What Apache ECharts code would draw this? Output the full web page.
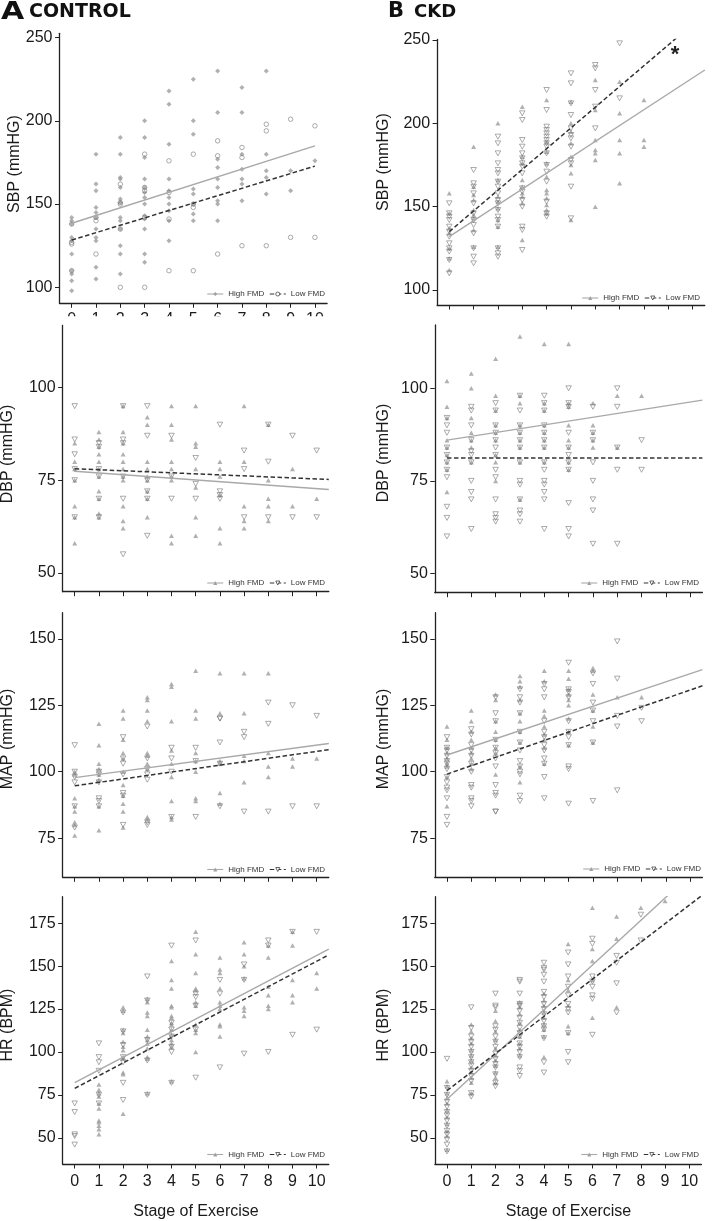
<!DOCTYPE html>
<html><head><meta charset="utf-8">
<script src="https://cdn.jsdelivr.net/npm/echarts@6/dist/echarts.min.js"></script>
<style>html,body{margin:0;padding:0;background:#fff}#c{width:722px;height:1221px}</style>
</head><body><div id="c"></div><script>
// ---------- axis values ----------
const stages = [0,1,2,3,4,5,6,7,8,9,10];
const stageTicks = [0,1,2,3,4,5,6,7,8,9,10];
const sbpTicks = [100,150,200,250];
const dbpTicks = [50,75,100];
const mapTicks = [75,100,125,150];
const hrTicks = [50,75,100,125,150,175];

// ---------- CONTROL: SBP (values per stage) ----------
const ctrlSbpHigh = [[142,140,138,130,128,120,110,108,104,98],[180,162,158,148,145,142,135,130,128,112,105],[190,180,166,165,160,153,151,142,140,135,125,120,108],[200,190,178,165,160,157,154,150,143,141,135,120,115],[218,210,186,165,158,154,150,146,140,128],[225,200,192,159,156,150,144,140],[230,205,177,172,165,160,152,150,140],[220,205,180,171,165,162,152],[230,180,170,166,156],[170,158],[176]];
const ctrlSbpLow = [[138,127,126,110],[142,140,120],[162,151,150,135,100],[180,160,158,142,100],[176,157,141,110],[180,150,148,110],[188,179,120],[184,178,125],[198,194,125],[201,130],[197,130]];
const ctrlSbpHighFit = [[0,138.5],[10,185]];
const ctrlSbpLowFit = [[0,128.4],[10,172.8]];

// ---------- CKD: SBP ----------
const ckdSbpHigh = [[158,146,137,134,125,119,112],[186,162,157,154,148,145,143,136,126],[200,166,156,153,149,142,138,126],[210,180,176,166,162,158,156,152,130],[214,189,183,176,168,160,158,155,151,148,146],[213,200,195,188,180,175,170,142],[226,208,190,184,182,178,150],[225,206,190,182,164],[214,190,186],[],[]];
const ckdSbpLow = [[152,146,144,142,138,135,132,128,125,123,118,110],[172,164,162,158,152,146,142,139,134,125,120,116],[192,188,182,176,172,170,165,162,158,154,152,148,144,142,138,125,122,120],[206,202,190,186,182,179,176,174,170,161,159,154,150,138,136,124],[220,208,198,196,194,192,190,188,186,182,175,171,165,153,146,144],[230,224,212,205,197,193,191,186,178,176,162,143],[235,233,220,210,197],[248,215],[],[],[]];
const ckdSbpHighFit = [[0,132],[10.5,232]];
const ckdSbpLowFit = [[0,135],[10.5,265.7]];

// ---------- CONTROL: DBP ----------
const ctrlDbpHigh = [[85,80,78,75,68,65,58],[88,86,84,82,80,78,76,72,70,66,65],[95,88,85,82,80,78,76,75,68,64,62],[92,90,80,78,76,75,72,70,65],[95,90,86,80,78,76,75,60,58],[95,85,84,78,73,65,60],[80,78,76,71,62,58],[95,80,68,64,62],[90,75,70,68,64],[78,68],[70]];
const ctrlDbpLow = [[95,86,82,78,75,65],[85,84,78,76,70,65],[95,86,85,76,70,55],[95,87,75,72,70,60],[87,76,70],[81,74,70],[90,72,71,70],[83,78,65],[90,80,65],[87,65],[83,65]];
const ctrlDbpHighFit = [[0,77.4],[10.5,72.5]];
const ctrlDbpLowFit = [[0,78.1],[10.5,75.2]];

// ---------- CKD: DBP ----------
const ckdDbpHigh = [[102,95,92,86,84,82,80,78,72],[104,100,92,88,86,84,80],[108,98,94,90,88,86,82,80,75],[114,98,96,90,88,86,84,80,70],[112,96,94,90,88,86,84,80],[112,96,95,90,86,84,80,78],[96,90,88,86,84],[98,84],[98],[],[]];
const ckdDbpLow = [[92,90,88,84,82,80,78,76,68,65,60],[95,94,90,86,83,82,80,75,72,70,62],[96,94,90,88,86,84,82,78,76,70,66,65,64],[98,94,90,88,86,84,80,75,74,70,67,66,64],[98,96,94,90,88,86,84,80,78,75,74,72,70,62],[100,96,95,88,84,82,80,78,69,62,60],[95,88,86,80,75,70,67,58],[100,95,84,78,58],[86,78],[],[]];
const ckdDbpHighFit = [[0,86],[10.5,96.8]];
const ckdDbpLowFit = [[0,81.2],[10.5,81.2]];

// ---------- CONTROL: MAP ----------
const ctrlMapHigh = [[100,99,90,87,85,81,80,76],[118,110,103,101,99,97,87,78],[123,120,112,107,105,100,95,91,88,85,79],[128,127,123,119,107,106,103,101,83,82],[133,132,119,108,103,98,89,83,82],[138,123,120,107,104,100,90,89],[137,122,104,103,92,88],[137,122,106,104,96],[137,107,102,98],[105,102],[105]];
const ctrlMapLow = [[110,100,98,96,87,79],[100,99,96,90,89,87],[113,105,103,99,92,91,80],[117,105,101,99,97,81,80],[109,105,100,83],[109,104,83],[120,120,111,103,87],[115,113,85],[126,118,85],[125,87],[121,87]];
const ctrlMapHighFit = [[0,97.8],[10.5,110.6]];
const ctrlMapLowFit = [[0,94.7],[10.5,108.3]];

// ---------- CKD: MAP ----------
const ckdMapHigh = [[117,112,109,107,105,103,102,98,87],[123,119,115,112,109,107,105,103,101],[129,127,119,115,112,109,107,99],[136,134,132,127,122,119,115,111,102,96],[138,134,123,121,117,114,112,109,103],[138,135,131,129,127,125,120,115,110],[139,138,129,123,117,111],[128],[128],[],[]];
const ckdMapLow = [[113,109,108,106,104,103,101,98,96,94,93,90,83,80],[116,114,110,108,106,103,100,95,94,90,89,87],[128,122,119,112,109,107,105,102,95,92,91,85,85],[131,128,126,122,115,111,108,104,102,100,99,91,89],[133,131,128,119,115,113,110,108,105,103,98,90],[141,131,130,128,119,115,113,110,102,101,88],[137,133,126,123,119,111,89],[149,135,121,117,93],[124,119],[],[]];
const ckdMapHighFit = [[0,106.3],[10.5,138.4]];
const ckdMapLowFit = [[0,99.1],[10.5,132.3]];

// ---------- CONTROL: HR ----------
const ctrlHrHigh = [[],[81,78,76,74,70,67,60,59,57,55,52],[126,124,113,111,106,103,101,97,96,88,87,64],[131,129,123,121,113,109,107,105,102,97,96,76],[153,142,137,127,126,121,120,117,116,113,110,107,105,103,83],[170,157,146,137,136,129,127,116,113,111,100],[155,148,146,137,129,127,125,116,115,109],[164,157,150,143,126,124,121],[162,155,138,133,127,125],[170,162,142,133,129],[146,137]];
const ctrlHrLow = [[70,65,52,51,46],[105,97,94,89,75,70],[123,112,104,97,94,82,72],[144,130,107,95,75],[162,117,113,109,103,100,82],[165,134,132,127,113,85],[142,134,91],[151,142,99],[165,162,100],[170,110],[170,113]];
const ctrlHrHighFit = [[0,82.1],[10.5,159.9]];
const ctrlHrLowFit = [[0,78.8],[10.5,156.6]];

// ---------- CKD: HR ----------
const ckdHrHigh = [[83,80,76,73,70,66,62,58,54,51,43],[116,112,108,105,101,98,95,91,88,85,82,76],[124,118,112,107,102,98,95,92,88,85,82],[129,126,122,117,113,109,105,102,98],[134,130,127,123,120,116,113,109,97],[163,142,136,127,115,111],[184,160,153,142,120],[179,166,126],[184],[188],[]];
const ckdHrLow = [[96,79,75,71,68,65,63,60,57,54,52,49,46,42],[126,114,109,106,103,100,97,94,92,89,86,83,76,74],[134,127,126,115,113,109,106,103,99,96,93,91,87,82,80],[142,141,134,128,127,124,120,117,114,111,109,105,103,100,97,91,89,86],[152,149,148,145,141,135,132,128,125,122,118,115,113,108,94,88],[158,151,144,138,133,128,125,123,111,100,94],[166,163,144,141,138,133,131,110],[156,152,140,123],[180,165],[],[]];
const ckdHrHighFit = [[0,72.4],[10.5,209.3]];
const ckdHrLowFit = [[0,77.5],[10.5,191]];

// ---------- layout ----------
const FONT = '"Liberation Sans", Arial, Helvetica, sans-serif';
const panels = [
  {id:'A1', g:{left:59.5, top:33.3, width:267.6, height:270}, y:[90.4,252.6], t:sbpTicks, hi:ctrlSbpHigh, lo:ctrlSbpLow, hf:ctrlSbpHighFit, lf:ctrlSbpLowFit, circ:true, lab:true, labMargin:8.5, leg:{right:397, top:290}},
  {id:'B1', g:{left:437.1, top:39.5, width:267.7, height:265.5}, y:[91,250.3], t:sbpTicks, hi:ckdSbpHigh, lo:ckdSbpLow, hf:ckdSbpHighFit, lf:ckdSbpLowFit, lab:false, leg:{right:22, top:294}},
  {id:'A2', g:{left:62.6, top:325, width:266.2, height:266.7}, y:[44.9,116.9], t:dbpTicks, hi:ctrlDbpHigh, lo:ctrlDbpLow, hf:ctrlDbpHighFit, lf:ctrlDbpLowFit, lab:false, leg:{right:397, top:579}},
  {id:'B2', g:{left:434.8, top:325, width:267.6, height:267.7}, y:[44.8,117.1], t:dbpTicks, hi:ckdDbpHigh, lo:ckdDbpLow, hf:ckdDbpHighFit, lf:ckdDbpLowFit, lab:false, leg:{right:23, top:579}},
  {id:'A3', g:{left:62.6, top:612.7, width:266.2, height:264.6}, y:[60.3,159.8], t:mapTicks, hi:ctrlMapHigh, lo:ctrlMapLow, hf:ctrlMapHighFit, lf:ctrlMapLowFit, lab:false, leg:{right:397, top:865.5}},
  {id:'B3', g:{left:434.8, top:612.7, width:267.6, height:264.6}, y:[60.3,159.8], t:mapTicks, hi:ckdMapHigh, lo:ckdMapLow, hf:ckdMapHighFit, lf:ckdMapLowFit, lab:false, leg:{right:21, top:865}},
  {id:'A4', g:{left:62.6, top:896.7, width:266.2, height:267.3}, y:[34.7,190.5], t:hrTicks, hi:ctrlHrHigh, lo:ctrlHrLow, hf:ctrlHrHighFit, lf:ctrlHrLowFit, lab:true, labMargin:9.5, leg:{right:397, top:1150.5}},
  {id:'B4', g:{left:434.9, top:896.7, width:266.5, height:267.3}, y:[34.7,190.5], t:hrTicks, hi:ckdHrHigh, lo:ckdHrLow, hf:ckdHrHighFit, lf:ckdHrLowFit, lab:true, labMargin:9.5, leg:{right:23, top:1150.5}}
];

function pts(lists){
  const out = [];
  lists.forEach((vals, s) => vals.forEach(v => out.push([stages[s], v])));
  return out;
}

const AX = '#222';
const grid = [], xAxis = [], yAxis = [], series = [], legend = [];
panels.forEach((p, i) => {
  grid.push(Object.assign({containLabel:false}, p.g));
  xAxis.push({type:'value', gridIndex:i, min:-0.5, max:10.5,
    axisLine:{show:true, onZero:false, lineStyle:{color:AX, width:1.3}},
    axisTick:{show:true, length:4.5, lineStyle:{color:AX, width:1}, customValues:stageTicks},
    axisLabel:{show:p.lab, customValues:stageTicks, fontSize:16, color:'#1a1a1a', fontFamily:FONT, margin:p.labMargin || 9},
    splitLine:{show:false}});
  yAxis.push({type:'value', gridIndex:i, min:p.y[0], max:p.y[1],
    axisLine:{show:true, onZero:false, lineStyle:{color:AX, width:1.3}},
    axisTick:{show:true, length:4.5, lineStyle:{color:AX, width:1}, customValues:p.t},
    axisLabel:{show:true, customValues:p.t, fontSize:16, color:'#1a1a1a', fontFamily:FONT, margin:7},
    splitLine:{show:false}});
  const hiName = 'High FMD#' + p.id, loName = 'Low FMD#' + p.id;
  const hiSym = p.circ ? 'diamond' : 'triangle';
  const loSym = p.circ ? 'circle' : 'triangle';
  const loRot = p.circ ? 0 : 180;
  series.push({type:'line', name:hiName, xAxisIndex:i, yAxisIndex:i, data:p.hf, showSymbol:false,
    symbol:hiSym, clip:true, z:4, silent:true, animation:false,
    lineStyle:{color:'#a9a9a9', width:1.4}, itemStyle:{color:'#a0a0a0'}});
  series.push({type:'line', name:loName, xAxisIndex:i, yAxisIndex:i, data:p.lf, showSymbol:false,
    symbol:loSym, symbolRotate:loRot, clip:true, z:4, silent:true, animation:false,
    lineStyle:{color:'#333', width:1.5, type:[4.5,2.5]}, itemStyle:{color:'#333'}});
  series.push({type:'scatter', name:hiName, xAxisIndex:i, yAxisIndex:i, data:pts(p.hi),
    symbol:hiSym, symbolSize:p.circ ? 5 : [5,4.5], z:2, silent:true, animation:false,
    itemStyle:{color:'#9c9c9c'}});
  series.push({type:'scatter', name:loName, xAxisIndex:i, yAxisIndex:i, data:pts(p.lo),
    symbol:loSym, symbolRotate:loRot, symbolSize:p.circ ? 4.5 : [5.5,5], z:3, silent:true, animation:false,
    itemStyle:{color:'rgba(255,255,255,0)', borderColor:'#747474', borderWidth:0.75}});
  legend.push({show:true, selectedMode:false, orient:'horizontal', right:p.leg.right, top:p.leg.top,
    itemWidth:16, itemHeight:5, itemGap:5, padding:0,
    textStyle:{fontSize:8, color:'#333', fontFamily:FONT},
    formatter:n => n.split('#')[0],
    lineStyle:{width:1.1},
    data:[{name:hiName},
          {name:loName, itemStyle:{color:'#fff', borderColor:'#444', borderWidth:0.8}}]});
});

// ---------- text ----------
const TITLE = '"DejaVu Sans", "Liberation Sans", sans-serif';
function txt(x, y, text, font, extra){
  return Object.assign({type:'text', x:x, y:y, silent:true,
    style:{text:text, font:font, fill:'#111', textAlign:'left', textVerticalAlign:'middle'}}, extra || {});
}
function ytitle(x, y, text){
  return {type:'text', x:x, y:y, rotation:Math.PI/2, silent:true,
    style:{text:text, font:'16px ' + FONT, fill:'#1a1a1a', textAlign:'center', textVerticalAlign:'middle'}};
}
const graphic = [
  // covers the lower part of the first row's stage labels, as the next panel does in the original
  {type:'rect', shape:{x:50, y:316.3, width:290, height:8.5}, style:{fill:'#fff'}, z:100, silent:true},
  txt(1, 12.5, 'A', 'bold 25px ' + TITLE, {scaleX:1.2}),
  txt(29, 12, 'CONTROL', 'bold 19px ' + TITLE),
  txt(388, 12, 'B', 'bold 21px ' + TITLE),
  txt(414, 12.5, 'CKD', 'bold 18px ' + TITLE),
  {type:'text', x:675, y:55, silent:true, style:{text:'*', font:'bold 22px ' + FONT, fill:'#222', textAlign:'center', textVerticalAlign:'middle'}},
  ytitle(15, 164, 'SBP (mmHG)'),
  ytitle(8, 454, 'DBP (mmHG)'),
  ytitle(8, 739, 'MAP (mmHG)'),
  ytitle(8, 1025, 'HR (BPM)'),
  ytitle(383.5, 162, 'SBP (mmHG)'),
  ytitle(383.5, 453, 'DBP (mmHG)'),
  ytitle(383.5, 739, 'MAP (mmHG)'),
  ytitle(383.5, 1025, 'HR (BPM)'),
  {type:'text', x:196, y:1212, silent:true, style:{text:'Stage of Exercise', font:'16px ' + FONT, fill:'#1a1a1a', textAlign:'center', textVerticalAlign:'middle'}},
  {type:'text', x:568.5, y:1212, silent:true, style:{text:'Stage of Exercise', font:'16px ' + FONT, fill:'#1a1a1a', textAlign:'center', textVerticalAlign:'middle'}}
];

const chart = echarts.init(document.getElementById('c'), null, {renderer:'canvas'});
chart.setOption({backgroundColor:'#fff', animation:false, grid, xAxis, yAxis, series, legend, graphic});
</script></body></html>
